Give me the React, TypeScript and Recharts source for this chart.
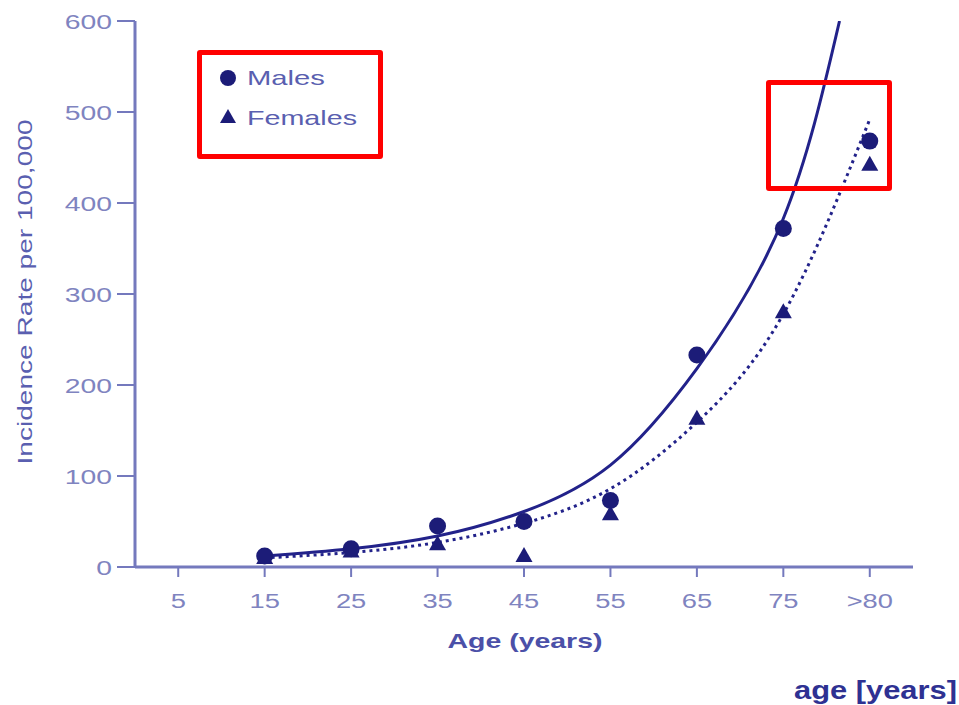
import React from "react";
import { ComposedChart, Legend, Line, XAxis, YAxis } from "recharts";

const ageGroups = ["5", "15", "25", "35", "45", "55", "65", "75", ">80"];
const malesObserved = [null, 12, 20, 45, 50, 73, 233, 372, 468];
const femalesObserved = [null, 10, 17, 25, 12, 58, 163, 280, 442];
// fitted curves: [position on the age axis, rate]
const malesFitCurve = [
  [1, 12], [2, 20], [3, 34], [4, 61], [5, 112], [6, 218], [7, 383], [7.65, 600],
];
const femalesFitCurve = [
  [1, 10], [2, 16], [3, 27], [4, 48], [5, 86], [6, 159], [7, 278], [8, 492],
];
const rateTicks = [0, 100, 200, 300, 400, 500, 600];
const ageTicks = ageGroups.map((_, i) => i);

const toPoints = (values: (number | null)[]) =>
  values.map((value, i) => ({ pos: i, value }));
const toCurve = (pairs: number[][]) =>
  pairs.map(([pos, value]) => ({ pos, value }));

const malesData = toPoints(malesObserved);
const femalesData = toPoints(femalesObserved);
const malesFitData = toCurve(malesFitCurve);
const femalesFitData = toCurve(femalesFitCurve);

const NAVY = "#1c1c78";
const CURVE = "#22228a";
const AXIS = "#7479bd";
const TICK_TEXT = "#7f84c0";
const LABEL_TEXT = "#5a5fb0";
const FONT = "'Liberation Sans', Arial, sans-serif";

function YTick({ x, y, payload }: any) {
  return (
    <g transform={`translate(${x},${y})`}>
      <text
        transform="scale(1.35,1)"
        textAnchor="end"
        dy={7.5}
        fontSize={21}
        fill={TICK_TEXT}
        fontFamily={FONT}
      >
        {payload.value}
      </text>
    </g>
  );
}

function XTick({ x, y, payload }: any) {
  return (
    <g transform={`translate(${x},${y})`}>
      <text
        transform="scale(1.3,1)"
        textAnchor="middle"
        dy={29}
        fontSize={21}
        fill={TICK_TEXT}
        fontFamily={FONT}
      >
        {ageGroups[payload.value]}
      </text>
    </g>
  );
}

function CircleDot(props: any) {
  const { cx, cy, value, index } = props;
  if (value == null || cx == null || cy == null) return <g key={`c${index}`} />;
  return <circle key={`c${index}`} cx={cx} cy={cy} r={8.5} fill={NAVY} />;
}

function TriangleDot(props: any) {
  const { cx, cy, value, index } = props;
  if (value == null || cx == null || cy == null) return <g key={`t${index}`} />;
  return (
    <path
      key={`t${index}`}
      d={`M${cx},${cy - 9} L${cx + 8.5},${cy + 6} L${cx - 8.5},${cy + 6} Z`}
      fill={NAVY}
    />
  );
}

// legend drawn by hand so it looks like the scanned one
function LegendBox() {
  return (
    <svg width={170} height={90}>
      <circle cx={16} cy={20} r={8} fill={NAVY} />
      <text
        x={35}
        y={27}
        fontSize={21}
        fill={LABEL_TEXT}
        fontFamily={FONT}
        textLength={78}
        lengthAdjust="spacingAndGlyphs"
      >
        Males
      </text>
      <path d="M16,51 L24,65 L8,65 Z" fill={NAVY} />
      <text
        x={35}
        y={67}
        fontSize={21}
        fill={LABEL_TEXT}
        fontFamily={FONT}
        textLength={110}
        lengthAdjust="spacingAndGlyphs"
      >
        Females
      </text>
    </svg>
  );
}

const redBox = (left: number, top: number, width: number, height: number) => (
  <div
    style={{
      position: "absolute",
      left,
      top,
      width,
      height,
      border: "5px solid #ff0000",
      borderRadius: 3,
      boxSizing: "border-box",
      pointerEvents: "none",
    }}
  />
);

export default function App() {
  return (
    <div
      style={{
        position: "absolute",
        left: 0,
        top: 0,
        width: 959,
        height: 705,
        background: "#fff",
      }}
    >
      <ComposedChart
        width={959}
        height={705}
        margin={{ top: 21, right: 46, bottom: 108, left: 75 }}
      >
        <XAxis
          type="number"
          dataKey="pos"
          domain={[-0.5, 8.5]}
          ticks={ageTicks}
          height={30}
          axisLine={{ stroke: AXIS, strokeWidth: 3 }}
          tickLine={{ stroke: AXIS, strokeWidth: 2 }}
          tickSize={10}
          tickMargin={2}
          tick={<XTick />}
          interval={0}
        />
        <YAxis
          width={60}
          domain={[0, 600]}
          ticks={rateTicks}
          allowDataOverflow
          axisLine={{ stroke: AXIS, strokeWidth: 3 }}
          tickLine={{ stroke: AXIS, strokeWidth: 2 }}
          tickSize={18}
          tickMargin={5}
          tick={<YTick />}
        />
        <Legend
          layout="horizontal"
          verticalAlign="middle"
          align="center"
          content={() => <LegendBox />}
          wrapperStyle={{ left: 212, top: 58, width: 170, height: 90 }}
        />
        <Line
          data={femalesFitData}
          type="natural"
          dataKey="value"
          name="Females fit"
          stroke={CURVE}
          strokeWidth={3}
          strokeDasharray="3 4"
          dot={false}
          activeDot={false}
          legendType="none"
          isAnimationActive={false}
        />
        <Line
          data={malesFitData}
          type="natural"
          dataKey="value"
          name="Males fit"
          stroke={CURVE}
          strokeWidth={3}
          dot={false}
          activeDot={false}
          legendType="none"
          isAnimationActive={false}
        />
        <Line
          data={femalesData}
          dataKey="value"
          name="Females"
          stroke="none"
          dot={TriangleDot}
          activeDot={false}
          legendType="triangle"
          isAnimationActive={false}
        />
        <Line
          data={malesData}
          dataKey="value"
          name="Males"
          stroke="none"
          dot={CircleDot}
          activeDot={false}
          legendType="circle"
          isAnimationActive={false}
        />
      </ComposedChart>

      <svg
        width={959}
        height={705}
        style={{ position: "absolute", left: 0, top: 0, pointerEvents: "none" }}
      >
        <text
          transform="translate(32,292) rotate(-90)"
          textAnchor="middle"
          fontSize={20}
          fill={LABEL_TEXT}
          fontFamily={FONT}
          textLength={345}
          lengthAdjust="spacingAndGlyphs"
        >
          Incidence Rate per 100,000
        </text>
        <text
          x={525}
          y={648}
          textAnchor="middle"
          fontSize={21}
          fontWeight="bold"
          fill="#4b50a8"
          fontFamily={FONT}
          textLength={155}
          lengthAdjust="spacingAndGlyphs"
        >
          Age (years)
        </text>
        <text
          x={957}
          y={699}
          textAnchor="end"
          fontSize={25}
          fontWeight="bold"
          fill="#2e3192"
          fontFamily={FONT}
          textLength={163}
          lengthAdjust="spacingAndGlyphs"
        >
          age [years]
        </text>
      </svg>

      {redBox(197, 50, 186, 109)}
      {redBox(766, 80, 126, 111)}
    </div>
  );
}
